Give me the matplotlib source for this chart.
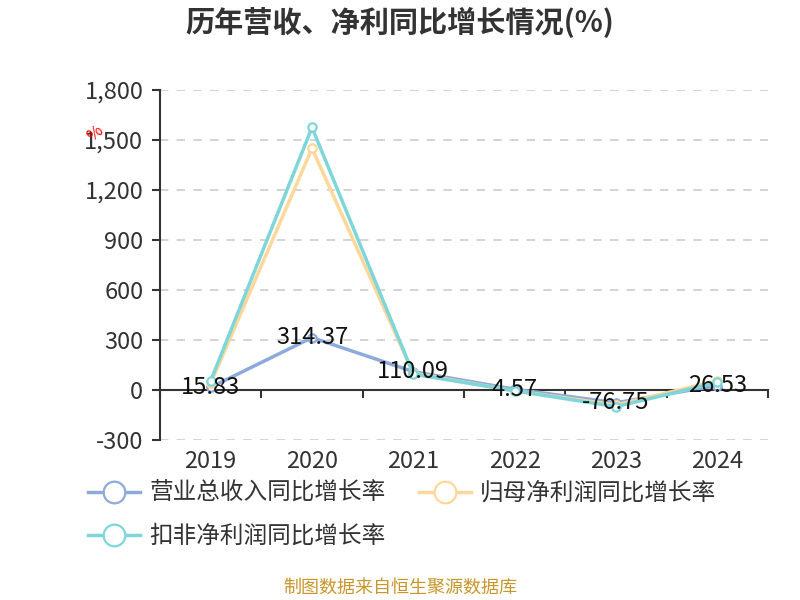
import matplotlib
matplotlib.use("Agg")
import matplotlib.pyplot as plt
import matplotlib.transforms as mtransforms

plt.rcParams['font.family'] = ['Noto Sans CJK SC', 'DejaVu Sans']

years = ["2019", "2020", "2021", "2022", "2023", "2024"]
revenue_growth = [15.83, 314.37, 110.09, 4.57, -76.75, 26.53]
net_profit_growth = [40, 1450, 100, -5, -90, 55]
deducted_profit_growth = [55, 1575, 95, -5, -100, 45]

series_names = ["营业总收入同比增长率", "归母净利润同比增长率", "扣非净利润同比增长率"]
colors = ["#8eaadc", "#fdd89a", "#7fd6d8"]

fig = plt.figure(figsize=(8, 6), dpi=100)
ax = fig.add_axes([0.2, 0.2667, 0.76, 0.5833])

x = list(range(len(years)))
handles = []
for vals, name, c in zip([revenue_growth, net_profit_growth, deducted_profit_growth],
                         series_names, colors):
    h, = ax.plot(x, vals, color=c, lw=2.5, marker='o', ms=6,
                 markerfacecolor='white', markeredgecolor=c, markeredgewidth=1.6,
                 label=name, zorder=3)
    handles.append(h)

for xi, v in zip(x, revenue_growth):
    ax.annotate(f"{v:.2f}", (xi, v), xytext=(0, 0), textcoords='offset points',
                ha='center', va='center', fontsize=17, color='#111111', zorder=5)

ax.set_xlim(-0.5, 5.5)
ax.set_ylim(-300, 1800)
ax.set_yticks(range(-300, 1801, 300))
ax.set_yticklabels([f"{v:,}" for v in range(-300, 1801, 300)], fontsize=17, color='#333333')
ax.yaxis.grid(True, linestyle=(0, (5, 5)), color='#cccccc', lw=1.2)
ax.set_axisbelow(True)

ax.set_xticks([i - 0.5 for i in range(len(years) + 1)])
ax.set_xticklabels([])
ax.tick_params(axis='x', direction='out', length=6, width=1.5, color='#333333')
ax.tick_params(axis='y', direction='out', length=6, width=1.5, color='#333333', pad=6)

for s in ['top', 'right']:
    ax.spines[s].set_visible(False)
ax.spines['bottom'].set_position(('data', 0))
ax.spines['left'].set_linewidth(1.5)
ax.spines['bottom'].set_linewidth(1.5)
ax.spines['left'].set_color('#333333')
ax.spines['bottom'].set_color('#333333')

trans = mtransforms.blended_transform_factory(ax.transData, ax.transAxes)
for xi, y in zip(x, years):
    ax.text(xi, -0.03, y, transform=trans, ha='center', va='top', fontsize=17, color='#333333')

fig.text(0.119, 0.778, "%", color='red', fontsize=12, rotation=40, ha='center', va='center')

fig.text(0.5, 0.963, "历年营收、净利同比增长情况(%)", ha='center', va='center',
         fontsize=21, fontweight='bold', color='#333333')
fig.text(0.5, 0.02, "制图数据来自恒生聚源数据库", ha='center', va='center',
         fontsize=13, color='#c8962a')

# matplotlib fills legend columns first, so reorder to get row-major layout
leg_handles = [handles[0], handles[2], handles[1]]
fig.legend(handles=leg_handles, loc='upper left', bbox_to_anchor=(0.11, 0.197), ncol=2,
           frameon=False, fontsize=17, handlelength=2.2, handletextpad=0.4,
           columnspacing=1.4, labelspacing=0.85, markerscale=2.6,
           borderaxespad=0, borderpad=0, labelcolor='#333333')

fig.savefig("out.png", dpi=100)
